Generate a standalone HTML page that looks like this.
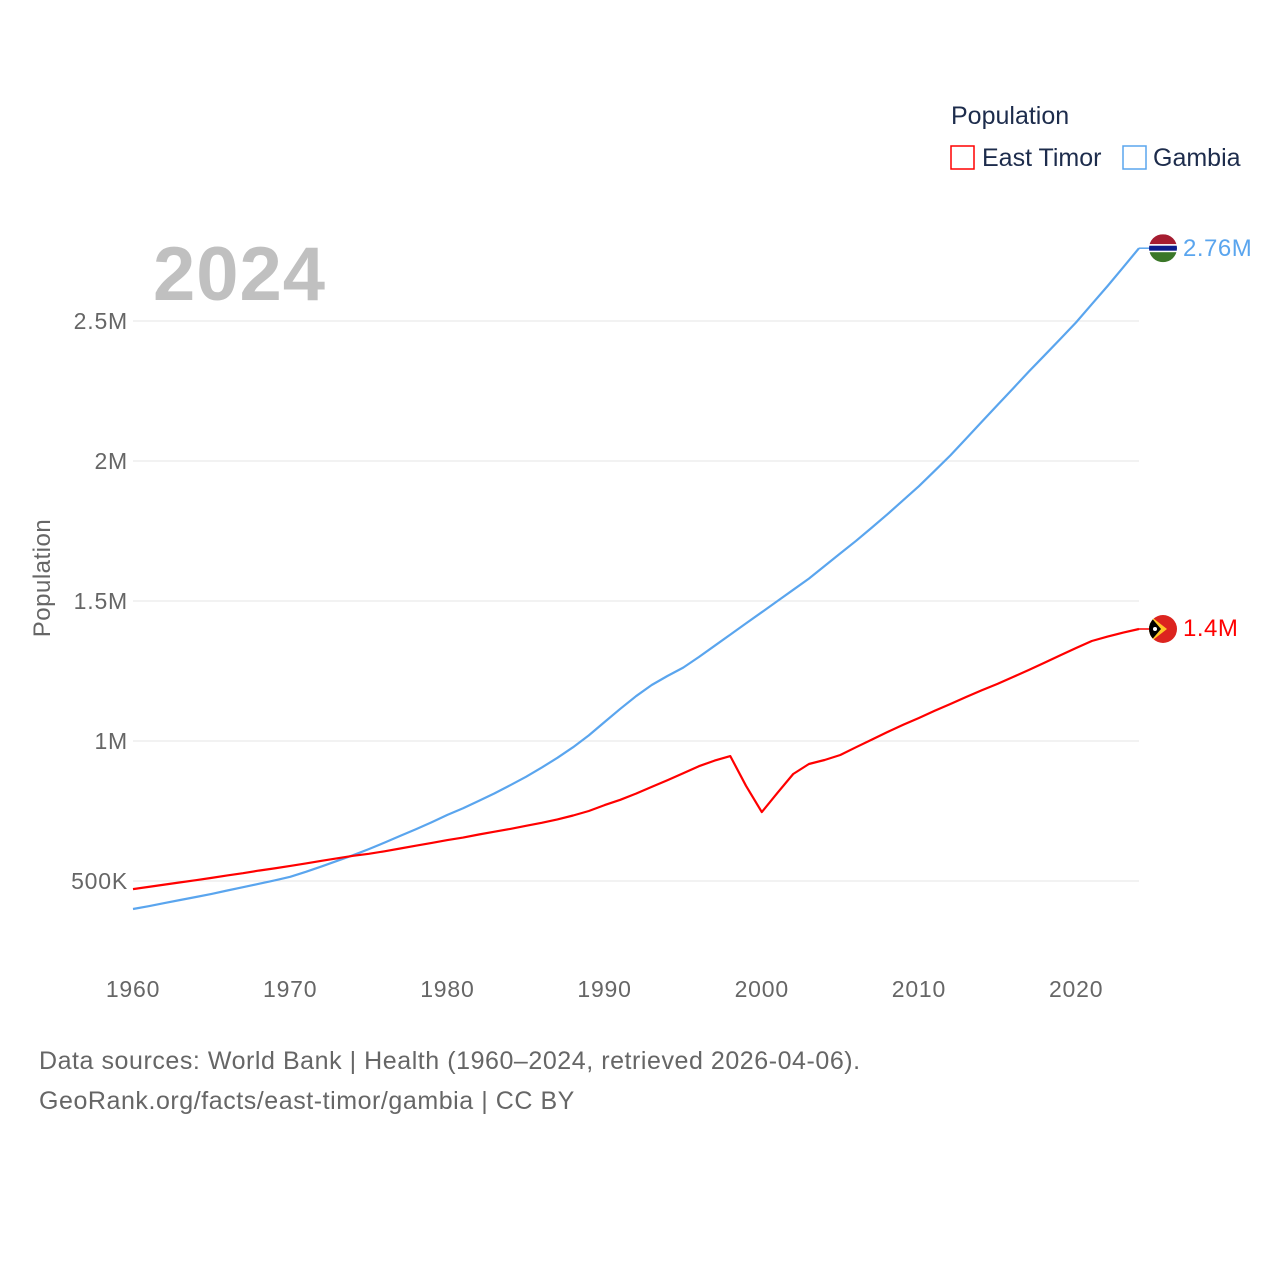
<!DOCTYPE html>
<html><head><meta charset="utf-8">
<style>
html,body{margin:0;padding:0;background:#fff;}
svg{display:block;font-family:"Liberation Sans",sans-serif;}
</style></head>
<body>
<svg id="chart" width="1280" height="1280" viewBox="0 0 1280 1280" xmlns="http://www.w3.org/2000/svg">
  <g id="grid"></g>
  <g id="yticks"></g>
  <g id="xticks"></g>
  <text x="153" y="300" font-size="76" font-weight="bold" fill="#c0c0c0" letter-spacing="1">2024</text>
  <text transform="translate(50,578) rotate(-90)" text-anchor="middle" font-size="24" fill="#666" letter-spacing="0.5">Population</text>
  <g id="series"></g>
  <g>
    <text x="951" y="124" font-size="25" fill="#1d2c4c">Population</text>
    <g>
      <rect x="951" y="146" width="23" height="23" fill="none" stroke="#ff0000" stroke-width="1.5"/>
      <text x="982" y="166" font-size="25" fill="#1d2c4c">East Timor</text>
    </g>
    <g>
      <rect x="1123" y="146" width="23" height="23" fill="none" stroke="#5aa5ee" stroke-width="1.5"/>
      <text x="1153" y="166" font-size="25" fill="#1d2c4c">Gambia</text>
    </g>
  </g>
  <text x="39" y="1069" font-size="25" fill="#666" letter-spacing="0.55">Data sources: World Bank | Health (1960–2024, retrieved 2026-04-06).</text>
  <text x="39" y="1109" font-size="25" fill="#666" letter-spacing="0.55">GeoRank.org/facts/east-timor/gambia | CC BY</text>
</svg>
<script>
const years = [];
for (let y = 1960; y <= 2024; y++) years.push(y);
const gambia = [
 0.400,0.410,0.421,0.432,0.443,0.454,0.466,0.478,0.490,0.502,
 0.515,0.533,0.552,0.572,0.592,0.614,0.637,0.661,0.685,0.710,
 0.736,0.760,0.786,0.813,0.842,0.872,0.905,0.940,0.978,1.020,
 1.068,1.115,1.160,1.200,1.232,1.262,1.300,1.340,1.380,1.420,
 1.460,1.500,1.540,1.580,1.625,1.670,1.715,1.762,1.810,1.860,
 1.910,1.965,2.020,2.080,2.140,2.200,2.260,2.320,2.378,2.436,
 2.495,2.560,2.625,2.692,2.760];
const eastTimor = [
 0.471,0.479,0.487,0.495,0.503,0.511,0.520,0.528,0.537,0.545,
 0.554,0.563,0.572,0.581,0.590,0.597,0.606,0.616,0.626,0.636,
 0.646,0.655,0.666,0.676,0.686,0.697,0.708,0.720,0.734,0.750,
 0.771,0.790,0.812,0.836,0.860,0.885,0.910,0.930,0.946,0.840,
 0.746,0.815,0.882,0.918,0.932,0.950,0.978,1.005,1.032,1.058,
 1.082,1.108,1.132,1.157,1.181,1.204,1.229,1.254,1.280,1.306,
 1.332,1.357,1.373,1.387,1.400];
const yTickValues = [0.5,1,1.5,2,2.5];
const yTickLabels = ["500K","1M","1.5M","2M","2.5M"];
const xTickValues = [1960,1970,1980,1990,2000,2010,2020];

const NS = "http://www.w3.org/2000/svg";
function xs(y){ return 133 + (y-1960)*(1139-133)/64; }
function ys(v){ return 1021 - v*280; }
function mk(tag, attrs, parent, txt){
  const e = document.createElementNS(NS, tag);
  for (const k in attrs) e.setAttribute(k, attrs[k]);
  if (txt !== undefined) e.textContent = txt;
  parent.appendChild(e); return e;
}
const grid = document.getElementById('grid');
const yt = document.getElementById('yticks');
yTickValues.forEach((v,i)=>{
  const l = mk('line',{x1:133,x2:1139,y1:ys(v),y2:ys(v),stroke:'#e6e6e6','stroke-width':1},grid);
  
  
  const t = mk('text',{x:128,y:ys(v)+8,'text-anchor':'end','font-size':23,'letter-spacing':0.8,fill:'#666'},yt,yTickLabels[i]);
  
  
});
const xt = document.getElementById('xticks');
xTickValues.forEach(v=>{
  const t = mk('text',{x:xs(v),y:997,'text-anchor':'middle','font-size':23,'letter-spacing':0.8,fill:'#666'},xt,String(v));
  
  
});
const sg = document.getElementById('series');
function line(data,color,name){
  const d = data.map((v,i)=>(i?'L':'M')+xs(years[i]).toFixed(1)+','+ys(v).toFixed(1)).join(' ');
  const p = mk('path',{d:d,fill:'none',stroke:color,'stroke-width':2.2,'stroke-linejoin':'round'},sg);
  
  
  const lx = xs(years[years.length-1]), ly = ys(data[data.length-1]);
  const c = mk('line',{x1:lx,y1:ly,x2:lx+10,y2:ly,stroke:color,'stroke-width':1.5},sg);
  
  
  return ly;
}
const gy = line(gambia,'#5aa5ee','gambia-line');
const ey = line(eastTimor,'#ff0000','east-timor-line');
const fx = 1163;
const gf = mk('g',{},sg);


const cpg = mk('clipPath',{id:'cg'},gf);
mk('circle',{cx:fx,cy:gy,r:14},cpg);
const gg = mk('g',{'clip-path':'url(#cg)'},gf);
mk('rect',{x:fx-14,y:gy-14,width:28,height:10,fill:'#a51c30'},gg);
mk('rect',{x:fx-14,y:gy-4,width:28,height:8,fill:'#fff'},gg);
mk('rect',{x:fx-14,y:gy-2.5,width:28,height:5,fill:'#0c1c8c'},gg);
mk('rect',{x:fx-14,y:gy+4,width:28,height:10,fill:'#3a7728'},gg);
const gl = mk('text',{x:1183,y:gy+8,'font-size':24,'letter-spacing':0.5,fill:'#5aa5ee'},sg,'2.76M');


const ef = mk('g',{},sg);


const cp = mk('clipPath',{id:'ce'},ef);
mk('circle',{cx:fx,cy:ey,r:14},cp);
const eg = mk('g',{'clip-path':'url(#ce)'},ef);
mk('rect',{x:fx-14,y:ey-14,width:28,height:28,fill:'#dc241f'},eg);
mk('polygon',{points:`${fx-14},${ey-14} ${fx+4},${ey} ${fx-14},${ey+14}`,fill:'#ffc726'},eg);
mk('polygon',{points:`${fx-14},${ey-14} ${fx-2},${ey} ${fx-14},${ey+14}`,fill:'#000'},eg);
mk('circle',{cx:fx-8,cy:ey,r:2,fill:'#fff'},eg);
const el = mk('text',{x:1183,y:ey+7,'font-size':24,'letter-spacing':0.5,fill:'#ff0000'},sg,'1.4M');


</script>
</body></html>
